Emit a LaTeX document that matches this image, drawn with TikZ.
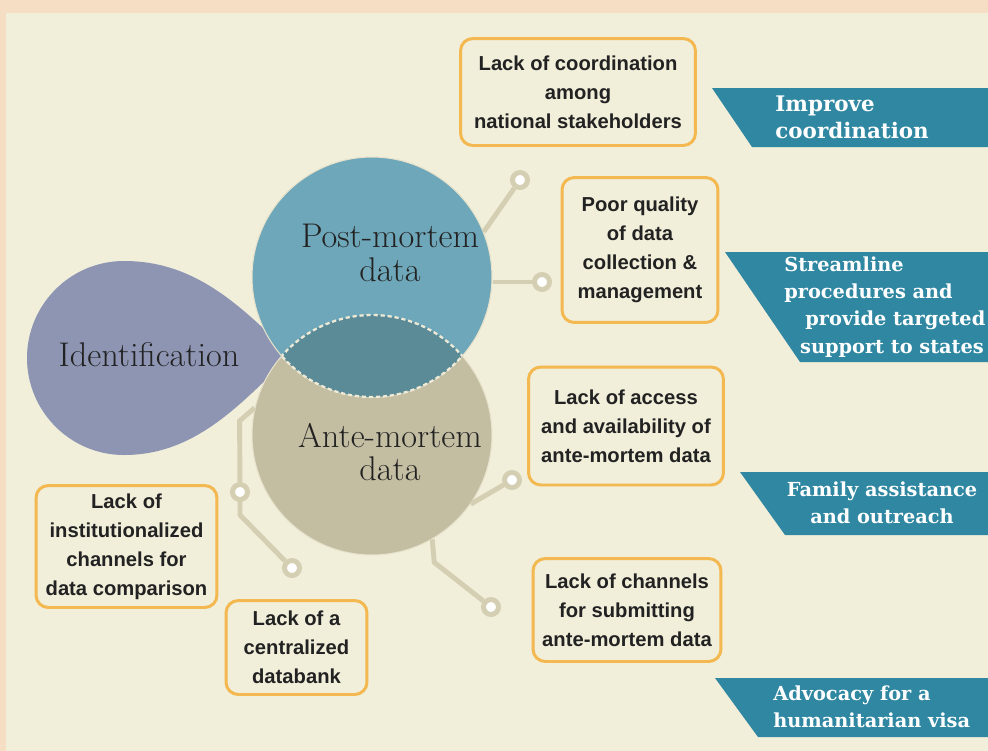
\documentclass[tikz,border=0pt]{standalone}
\usepackage{fontspec}
\usepackage{tikz}
\usetikzlibrary{positioning}
\newfontfamily\boxfont{Liberation Sans}
\newfontfamily\bannerfont{DejaVu Serif}
\definecolor{pagepeach}{HTML}{F6DEC4}
\definecolor{panelcream}{HTML}{F1EEDA}
\definecolor{dropblue}{HTML}{8D95B3}
\definecolor{postteal}{HTML}{6EA7B9}
\definecolor{antetan}{HTML}{C3BDA2}
\definecolor{lensteal}{HTML}{5A8B97}
\definecolor{linktan}{HTML}{D4CEB2}
\definecolor{boxorange}{HTML}{F3B84F}
\definecolor{bannerteal}{HTML}{2F87A2}
\definecolor{textdark}{HTML}{222222}
\definecolor{edgecream}{HTML}{E6E2CB}
\definecolor{dashcream}{HTML}{EEEAD6}
\tikzset{
  issue-box/.style={draw=boxorange, fill=panelcream, line width=1.7pt, rounded corners=7pt,
    align=center, inner sep=0pt, text=textdark,
    font=\boxfont\bfseries\fontsize{11.5}{16.5}\selectfont},
  data-circle/.style={circle, inner sep=0pt, minimum size=4.8cm, draw=edgecream, line width=0.6pt},
  data-label/.style={align=center, text=textdark, inner sep=0pt, font=\fontsize{19.5}{19}\selectfont},
  lens-edge/.style={draw=dashcream, line width=1.3pt, dash pattern=on 2.4pt off 1.6pt},
  action-label/.style={align=left, text=white, inner sep=0pt,
    font=\bannerfont\bfseries\fontsize{11}{15.5}\selectfont},
  link-line/.style={draw=linktan, line width=2.8pt},
  link-dot/.style={circle, draw=linktan, fill=white, line width=2.8pt, minimum size=0.3cm, inner sep=0pt}
}
\begin{document}
\begin{tikzpicture}[x=0.02cm, y=-0.02cm]
  % Page and panel
  \fill[pagepeach] (0,0) rectangle (988,751);
  \fill[panelcream] (6,13) rectangle (988,751);
  \useasboundingbox (0,0) rectangle (988,751);

  % Identification drop
  \fill[dropblue] (291,355) .. controls (240,305) and (195,261) .. (124,261)
    .. controls (70,261) and (27,305) .. (27,358)
    .. controls (27,411) and (70,455) .. (124,455)
    .. controls (195,455) and (240,405) .. (291,355);
  \node[data-label] (ident) at (149,355) {Identification};

  % Data circles and their overlap
  \node[data-circle, fill=antetan] (ante) at (372,435) {};
  \node[data-circle, fill=postteal] (post) at (372,277) {};
  \begin{scope}
    \clip (post.center) circle[radius=2.4cm];
    \fill[lensteal] (ante.center) circle[radius=2.4cm];
    \draw[lens-edge] (ante.center) circle[radius=2.4cm];
  \end{scope}
  \begin{scope}
    \clip (ante.center) circle[radius=2.4cm];
    \draw[lens-edge] (post.center) circle[radius=2.4cm];
  \end{scope}
  \node[data-label] (post-text) at (390,253) {Post-mortem\\data};
  \node[data-label] (ante-text) at (390,452) {Ante-mortem\\data};

  % Link dots
  \foreach \name/\x/\y in {pd1/520/180, pd2/542/282, ad1/512/480, ad2/491/607, ad3/240/492, ad4/292/568} {
    \node[link-dot] (\name) at (\x,\y) {};
  }

  % Links
  \draw[link-line] (post.22) -- (pd1);
  \draw[link-line] (post.east |- pd2) -- (pd2);
  \draw[link-line] (ante.-35) -- (ad1);
  \draw[link-line] (ante.-60) -- ++(2,23) -- (ad2);
  \draw[link-line] (ante.167) -- ++(-15,13) -- (ad3);
  \draw[link-line] (ad3) -- ++(0,23) -- (ad4);

  % Issue boxes
  \node[issue-box, minimum width=4.7cm, minimum height=2.14cm] (coordination) at (578,92)
    {Lack of coordination\\among\\national stakeholders};
  \node[issue-box, minimum width=3.12cm, minimum height=2.9cm] (quality) at (640,250)
    {Poor quality\\of data\\collection \&\\management};
  \node[issue-box, minimum width=3.9cm, minimum height=2.36cm] (access) at (626,426)
    {Lack of access\\and availability of\\ante-mortem data};
  \node[issue-box, minimum width=3.76cm, minimum height=2.06cm] (channels) at (627,610)
    {Lack of channels\\for submitting\\ante-mortem data};
  \node[issue-box, minimum width=3.62cm, minimum height=2.44cm] (comparison) at (126.5,546.5)
    {Lack of\\institutionalized\\channels for\\data comparison};
  \node[issue-box, minimum width=2.82cm, minimum height=1.88cm] (databank) at (296.5,647.5)
    {Lack of a\\centralized\\databank};

  % Action banners
  \foreach \top/\bot/\xt/\xb in {88/147/712/752, 252/362/725/800, 472/535/740/785, 678/737/715/758} {
    \fill[bannerteal] (\xt,\top) -- (988,\top) -- (988,\bot) -- (\xb,\bot) -- cycle;
  }
  \node[action-label, anchor=west, font=\bannerfont\bfseries\fontsize{12.2}{15.5}\selectfont]
    (improve) at (775,117) {Improve\\coordination};
  \node[action-label, anchor=west] (streamline) at (784,307)
    {Streamline\\procedures and\\\hspace*{12pt}provide targeted\\\hspace*{9pt}support to states};
  \node[action-label, align=center] (family) at (882,503) {Family assistance\\and outreach};
  \node[action-label, anchor=west] (advocacy) at (773,707) {Advocacy for a\\humanitarian visa};
\end{tikzpicture}
\end{document}
